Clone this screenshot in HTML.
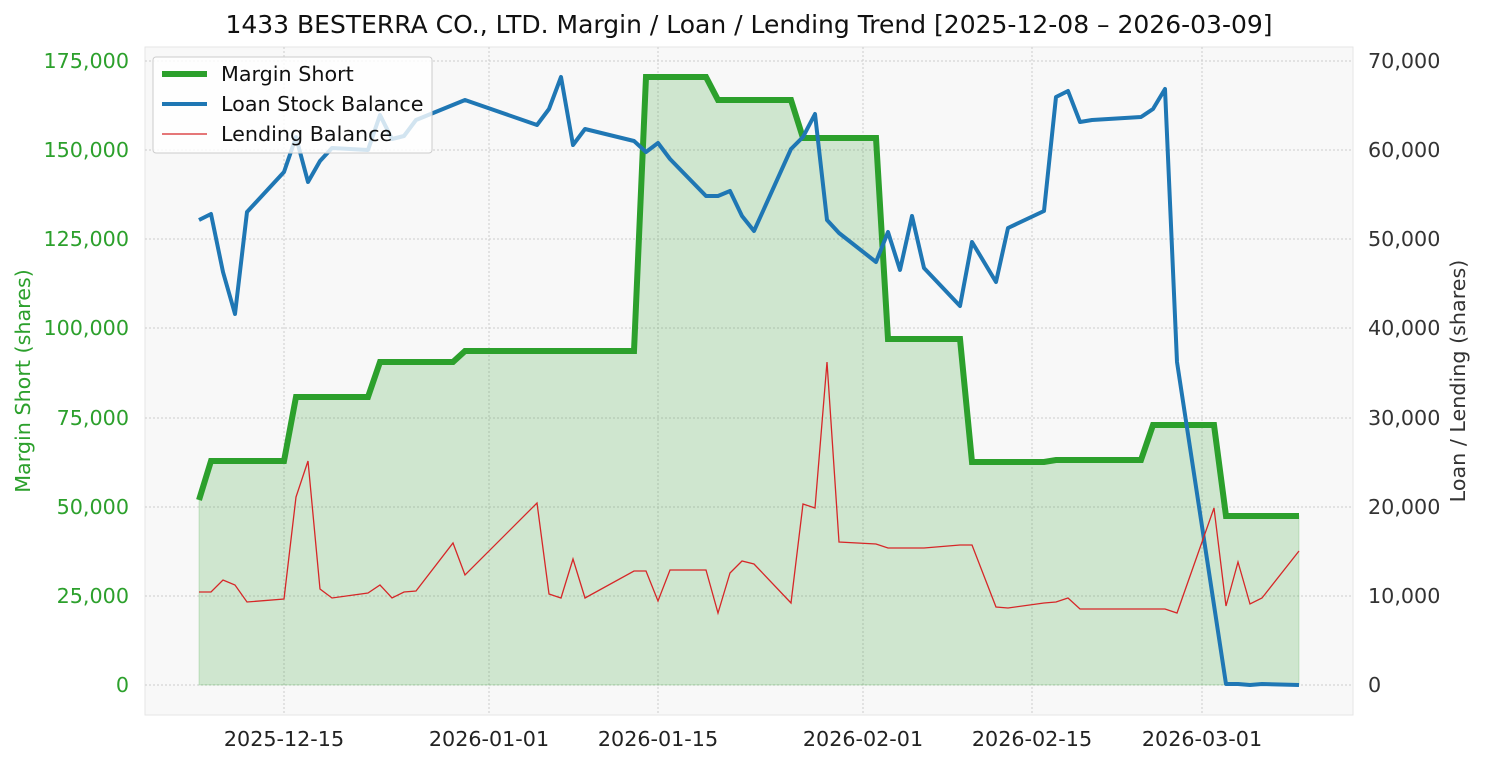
<!DOCTYPE html>
<html><head><meta charset="utf-8"><style>
body{margin:0;background:#fff}
svg text{font-family:"DejaVu Sans","Liberation Sans",sans-serif}
</style></head><body>
<svg width="1485" height="765" xmlns="http://www.w3.org/2000/svg">
<rect width="1485" height="765" fill="#fff"/>
<rect x="145" y="47" width="1208" height="668" fill="#f8f8f8" stroke="#e6e6e6"/>
<g stroke="#cccccc" stroke-dasharray="2,2" stroke-width="1">
<line x1="145" x2="1353" y1="685" y2="685"/><line x1="145" x2="1353" y1="596" y2="596"/>
<line x1="145" x2="1353" y1="507" y2="507"/><line x1="145" x2="1353" y1="418" y2="418"/>
<line x1="145" x2="1353" y1="328" y2="328"/><line x1="145" x2="1353" y1="239" y2="239"/>
<line x1="145" x2="1353" y1="150" y2="150"/><line x1="145" x2="1353" y1="61" y2="61"/>
<line y1="47" y2="715" x1="284" x2="284"/><line y1="47" y2="715" x1="489" x2="489"/>
<line y1="47" y2="715" x1="658" x2="658"/><line y1="47" y2="715" x1="863" x2="863"/>
<line y1="47" y2="715" x1="1032" x2="1032"/><line y1="47" y2="715" x1="1202" x2="1202"/>
</g>
<polygon fill="#2ca02c" fill-opacity="0.2" stroke="#2ca02c" stroke-opacity="0.2" points="199,685 199,500 211,461 284,461 296,397 368,397 380,362 453,362 465,351 634,351 646,77 706,77 718,100 791,100 803,138 876,138 888,339 960,339 972,462 1044,462 1056,460 1141,460 1153,425 1214,425 1226,516 1299,516 1299,685"/>
<polyline fill="none" stroke="#2ca02c" stroke-width="6" points="199,500 211,461 284,461 296,397 368,397 380,362 453,362 465,351 634,351 646,77 706,77 718,100 791,100 803,138 876,138 888,339 960,339 972,462 1044,462 1056,460 1141,460 1153,425 1214,425 1226,516 1299,516"/>
<polyline fill="none" stroke="#1f77b4" stroke-width="4" stroke-linejoin="round" points="199,220 211,214 223,272 235,314 247,212 284,172 296,137 308,182 320,161 332,148 368,150 380,115 392,139 404,136 416,120 465,100 537,125 549,109 561,77 573,145 585,129 634,141 646,152 658,143 670,159 706,196 718,196 730,191 742,216 754,231 791,149 803,137 815,114 827,220 839,233 876,262 888,232 900,270 912,216 924,268 960,306 972,242 996,282 1008,228 1044,211 1056,97 1068,91 1080,122 1092,120 1141,117 1153,109 1165,89 1177,362 1226,684 1238,684 1250,685 1262,684 1299,685"/>
<polyline fill="none" stroke="#d62728" stroke-width="1.3" points="199,592 211,592 223,580 235,585 247,602 284,599 296,497 308,461 320,589 332,598 368,593 380,585 392,598 404,592 416,591 453,543 465,575 537,503 549,594 561,598 573,559 585,598 634,571 646,571 658,601 670,570 706,570 718,613 730,573 742,561 754,564 791,603 803,504 815,508 827,362 839,542 876,544 888,548 924,548 960,545 972,545 996,607 1008,608 1044,603 1056,602 1068,598 1080,609 1165,609 1177,613 1214,508 1226,606 1238,562 1250,604 1262,598 1299,551"/>
<g font-size="20.7" fill="#2ca02c" text-anchor="end">
<text x="129" y="692">0</text><text x="129" y="603">25,000</text><text x="129" y="514">50,000</text>
<text x="129" y="425">75,000</text><text x="129" y="335">100,000</text><text x="129" y="246">125,000</text>
<text x="129" y="157">150,000</text><text x="129" y="68">175,000</text>
</g>
<g font-size="20.7" fill="#333">
<text x="1368" y="692">0</text><text x="1368" y="603">10,000</text><text x="1368" y="514">20,000</text>
<text x="1368" y="425">30,000</text><text x="1368" y="335">40,000</text><text x="1368" y="246">50,000</text>
<text x="1368" y="157">60,000</text><text x="1368" y="68">70,000</text>
</g>
<g font-size="20.7" fill="#222" text-anchor="middle">
<text x="284" y="746">2025-12-15</text><text x="489" y="746">2026-01-01</text><text x="658" y="746">2026-01-15</text>
<text x="863" y="746">2026-02-01</text><text x="1032" y="746">2026-02-15</text><text x="1202" y="746">2026-03-01</text>
</g>
<text x="749" y="33" font-size="25" text-anchor="middle" fill="#111">1433 BESTERRA CO., LTD. Margin / Loan / Lending Trend [2025-12-08 – 2026-03-09]</text>
<text transform="translate(30,381) rotate(-90)" font-size="20.7" fill="#2ca02c" text-anchor="middle">Margin Short (shares)</text>
<text transform="translate(1465,381) rotate(-90)" font-size="20.7" fill="#333" text-anchor="middle">Loan / Lending (shares)</text>
<rect x="153" y="57" width="279" height="96" rx="3" fill="#fff" fill-opacity="0.8" stroke="#ccc"/>
<line x1="162" x2="207" y1="74" y2="74" stroke="#2ca02c" stroke-width="6"/>
<line x1="162" x2="207" y1="104" y2="104" stroke="#1f77b4" stroke-width="4"/>
<line x1="162" x2="207" y1="134" y2="134" stroke="#d62728" stroke-width="1.3"/>
<g font-size="20.7" fill="#111">
<text x="221" y="81">Margin Short</text><text x="221" y="111">Loan Stock Balance</text><text x="221" y="141">Lending Balance</text>
</g>
</svg>
</body></html>
